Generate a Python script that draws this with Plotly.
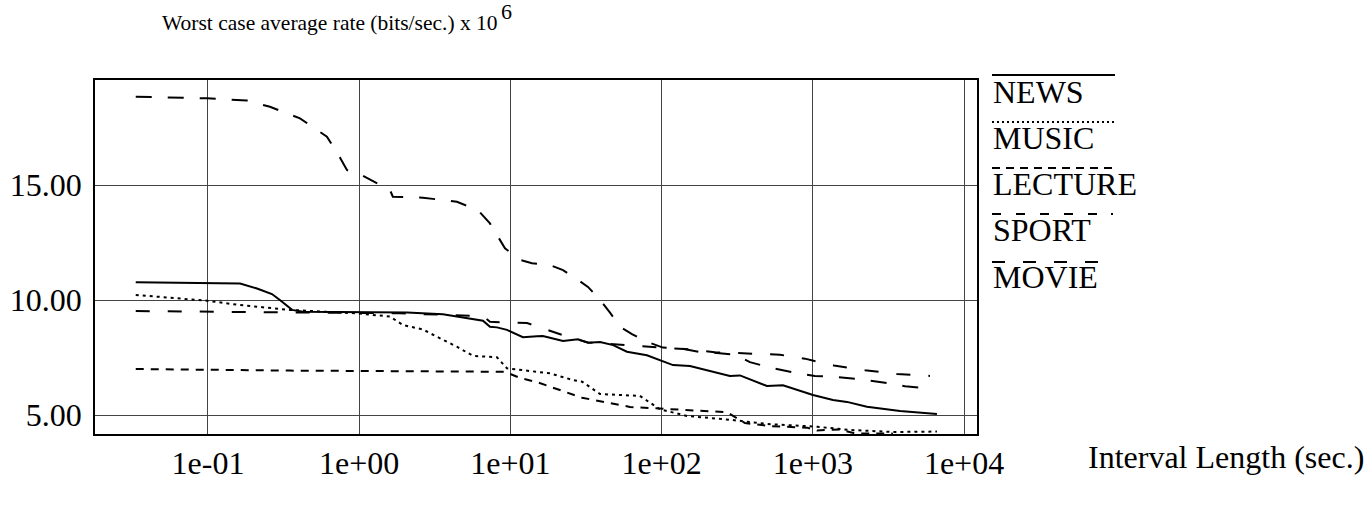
import plotly.graph_objects as go

# ---- data ----
NEWS_X = [0.0333, 0.163, 0.211, 0.265, 0.299, 0.360, 0.425, 0.966, 2.07, 3.58, 4.86, 6.59, 7.33, 8.15, 9.50,
          12.1, 15.0, 16.4, 22.3, 28.0, 32.6, 39.2, 47.8, 59.0, 80.0, 119, 154, 219, 283, 330, 498, 635,
          1003, 1360, 1683, 2281, 3773, 6622]
NEWS_Y = [10.77, 10.72, 10.5, 10.26, 10.0, 9.57, 9.49, 9.48, 9.46, 9.38, 9.25, 9.1, 8.84, 8.81, 8.7,
          8.38, 8.42, 8.43, 8.22, 8.29, 8.14, 8.17, 8.04, 7.75, 7.6, 7.17, 7.13, 6.88, 6.7, 6.72, 6.26, 6.29,
          5.87, 5.65, 5.57, 5.36, 5.17, 5.04]

MUSIC_X = [0.0333, 0.0985, 0.163, 0.348, 0.966, 1.60, 1.95, 2.64, 3.27, 4.43, 5.66, 8.15, 9.50, 12.1,
           18.3, 25.9, 29.8, 39.2, 71.9, 97.5, 147, 297, 498, 1066, 1762, 3389, 6622]
MUSIC_Y = [10.22, 9.97, 9.78, 9.57, 9.42, 9.28, 8.91, 8.72, 8.4, 7.97, 7.57, 7.51, 7.03, 6.96,
           6.81, 6.52, 6.45, 5.91, 5.83, 5.25, 4.96, 4.78, 4.61, 4.49, 4.35, 4.26, 4.28]

LECTURE_X = [0.0333, 0.348, 9.2, 11.7, 15.0, 18.8, 23.7, 29.8, 39.2, 49.9, 61.8, 97.5, 154, 271, 356,
             521, 916, 1066, 1513, 1901, 3389]
LECTURE_Y = [7.0, 6.93, 6.88, 6.6, 6.43, 6.2, 5.95, 5.75, 5.6, 5.45, 5.35, 5.28, 5.2, 5.12, 4.65,
             4.52, 4.45, 4.33, 4.37, 4.2, 4.19]

SPORT_X = [0.0333, 0.0985, 0.181, 0.257, 0.406, 0.612, 0.746, 0.830, 1.04, 1.27, 1.60, 1.67, 2.64, 4.43,
           6.11, 7.33, 9.21, 11.6, 13.9, 18.3, 22.3, 28.0, 32.6, 39.2, 45.6, 53.1, 63.7, 80.0, 102, 132,
           180, 209, 306, 384, 530, 740, 1033, 1443, 2050, 3004, 4074, 5957]
SPORT_Y = [18.84, 18.77, 18.67, 18.4, 17.9, 17.1, 16.2, 15.65, 15.43, 15.14, 14.78, 14.49, 14.45, 14.27,
           13.9, 13.33, 12.25, 11.74, 11.6, 11.52, 11.3, 10.87, 10.57, 10.0, 9.45, 8.83, 8.52, 8.19, 7.93, 7.9,
           7.74, 7.72, 7.62, 7.3, 7.05, 6.85, 6.7, 6.65, 6.55, 6.4, 6.25, 6.15]

MOVIE_X = [0.0333, 0.406, 1.86, 6.59, 7.33, 12.9, 16.7, 23.3, 32.6, 66.7, 102, 154, 225, 448, 607, 888,
           1380, 2213, 3606, 5957]
MOVIE_Y = [9.52, 9.47, 9.42, 9.3, 9.05, 9.0, 8.75, 8.43, 8.15, 8.0, 7.93, 7.85, 7.73, 7.65, 7.62, 7.45,
           7.15, 6.95, 6.78, 6.7]

SERIES = ["NEWS", "MUSIC", "LECTURE", "SPORT", "MOVIE"]
X_TICKS = [0.1, 1, 10, 100, 1000, 10000]
X_TICK_TEXT = ["1e-01", "1e+00", "1e+01", "1e+02", "1e+03", "1e+04"]
Y_TICKS = [5, 10, 15]
Y_TICK_TEXT = ["5.00", "10.00", "15.00"]

# ---- styles ----
FONT = "Liberation Serif, Times New Roman, serif"
FS = 32
TFS = 21.5
curve_dash = {"NEWS": "solid", "MUSIC": "3px,4px", "LECTURE": "8px,7px",
              "SPORT": "16px,16px", "MOVIE": "14px,18px"}
legend_dash = {"NEWS": "solid", "MUSIC": "2px,3px", "LECTURE": "8px,6px",
               "SPORT": "9px,15px,9px,15px,9px,15px,9px,15px,9px,14px,2px,30px",
               "MOVIE": "13px,18px"}
data = {"NEWS": (NEWS_X, NEWS_Y), "MUSIC": (MUSIC_X, MUSIC_Y), "LECTURE": (LECTURE_X, LECTURE_Y),
        "SPORT": (SPORT_X, SPORT_Y), "MOVIE": (MOVIE_X, MOVIE_Y)}

W, H = 1369, 506
L, R, T, B = 95, 392, 80, 72
pw, ph = W - L - R, H - T - B

fig = go.Figure()
for name in SERIES:
    xs, ys = data[name]
    fig.add_trace(go.Scatter(x=xs, y=ys, mode="lines", name=name, showlegend=False,
                             line=dict(color="black", width=2, dash=curve_dash[name])))

def px2paper_x(px):
    return (px - L) / pw

def py2paper_y(py):
    return (H - B - py) / ph

shapes = []
annotations = []
leg_line_y = [75, 122, 168, 214, 262]
leg_text_y = [92, 138, 184, 230, 277]
leg_x1 = [1115, 1115, 1113, 1116, 1105]
for i, name in enumerate(SERIES):
    shapes.append(dict(type="line", xref="paper", yref="paper",
                       x0=px2paper_x(992), x1=px2paper_x(leg_x1[i]),
                       y0=py2paper_y(leg_line_y[i]), y1=py2paper_y(leg_line_y[i]),
                       line=dict(color="black", width=2, dash=legend_dash[name])))
    annotations.append(dict(text=name, xref="paper", yref="paper", x=px2paper_x(991),
                            y=py2paper_y(leg_text_y[i]), xanchor="left", yanchor="middle",
                            showarrow=False, font=dict(family=FONT, size=FS, color="black")))

annotations.append(dict(text="Worst case average rate (bits/sec.) x 10", xref="paper", yref="paper",
                        x=px2paper_x(160), y=py2paper_y(23), xanchor="left", yanchor="middle",
                        showarrow=False, font=dict(family=FONT, size=TFS, color="black")))
annotations.append(dict(text="6", xref="paper", yref="paper",
                        x=px2paper_x(499), y=py2paper_y(11), xanchor="left", yanchor="middle",
                        showarrow=False, font=dict(family=FONT, size=22, color="black")))
annotations.append(dict(text="Interval Length (sec.)", xref="paper", yref="paper",
                        x=px2paper_x(1086), y=py2paper_y(457), xanchor="left", yanchor="middle",
                        showarrow=False, font=dict(family=FONT, size=FS, color="black")))

fig.update_layout(
    width=W, height=H, margin=dict(l=L, r=R, t=T, b=B, pad=0, autoexpand=False),
    paper_bgcolor="white", plot_bgcolor="white",
    font=dict(family=FONT, size=FS, color="black"),
    shapes=shapes, annotations=annotations,
    xaxis=dict(type="log", range=[-1.747, 4.086], tickvals=X_TICKS, ticktext=X_TICK_TEXT,
               showgrid=True, gridcolor="#444", gridwidth=1, zeroline=False, automargin=False,
               showline=True, linecolor="black", linewidth=1.5, mirror=True, ticks="",
               ticklabelstandoff=0, tickfont=dict(family=FONT, size=FS, color="black")),
    yaxis=dict(range=[4.174, 19.565], tickvals=Y_TICKS, ticktext=Y_TICK_TEXT,
               showgrid=True, gridcolor="#444", gridwidth=1, zeroline=False, automargin=False,
               showline=True, linecolor="black", linewidth=1.5, mirror=True, ticks="",
               ticklabelstandoff=5, tickfont=dict(family=FONT, size=FS, color="black")),
)

fig.write_html("out.html")
